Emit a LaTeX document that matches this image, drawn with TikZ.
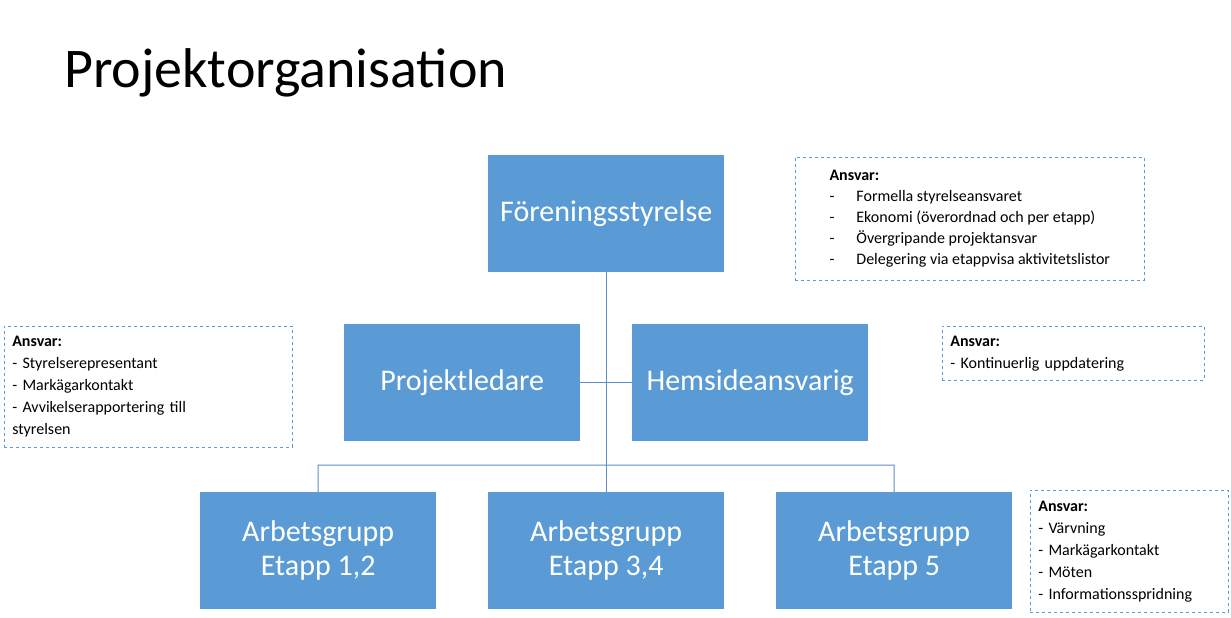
\documentclass[tikz,border=0pt]{standalone}
\usepackage{fontspec}
\setmainfont{Carlito}
\begin{document}
\begin{tikzpicture}[x=1pt,y=-1pt,
  org/.style={fill=orgblue,draw=none,minimum width=236pt,minimum height=117pt,text=white,font=\fontsize{30}{34}\selectfont,align=center,anchor=north west,inner sep=0pt},
  note/.style={draw=noteblue,dashed,line width=0.6pt,anchor=north west,align=left,font=\fontsize{16}{22}\selectfont,inner xsep=8pt,inner ysep=4pt,text=black},
  conn/.style={draw=lineblue,line width=1pt}]
\definecolor{orgblue}{HTML}{5B9BD5}
\definecolor{noteblue}{HTML}{5B9BD5}
\definecolor{lineblue}{HTML}{5B8FC8}
\useasboundingbox[fill=white] (0,0) rectangle (1231,618);
\node[anchor=base west,font=\fontsize{56}{60}\selectfont,inner sep=0pt] (title) at (64,88) {Projektorganisation};
\node[org] (fs) at (488,155) {Föreningsstyrelse};
\node[org] (pl) at (344,324) {Projektledare};
\node[org] (hs) at (632,324) {Hemsideansvarig};
\node[org] (a1) at (200,492) {Arbetsgrupp\\Etapp 1,2};
\node[org] (a2) at (488,492) {Arbetsgrupp\\Etapp 3,4};
\node[org] (a3) at (776,492) {Arbetsgrupp\\Etapp 5};
\coordinate (hl) at (318,465);
\coordinate (hr) at (894,465);
\draw[conn] (fs.south) -- (a2.north);
\draw[conn] (pl.east) -- (hs.west);
\draw[conn] (a1.north) -- (hl) -- (hr) -- (a3.north);
\node[note,minimum width=349pt,minimum height=123pt] (n1) at (795,157) {\textbf{Ansvar:}\\[-1pt]
-\hspace{22pt}Formella styrelseansvaret\\[-1pt]
-\hspace{22pt}Ekonomi (överordnad och per etapp)\\[-1pt]
-\hspace{22pt}Övergripande projektansvar\\[-1pt]
-\hspace{22pt}Delegering via etappvisa aktivitetslistor};
\node[note,minimum width=288pt,minimum height=121pt,text width=272pt] (n2) at (4,326) {\textbf{Ansvar:}\\
- Styrelserepresentant\\
- Markägarkontakt\\
- Avvikelserapportering till\\styrelsen};
\node[note,minimum width=262pt,minimum height=54pt,text width=246pt] (n3) at (942,326) {\textbf{Ansvar:}\\
- Kontinuerlig uppdatering};
\node[note,minimum width=198pt,minimum height=122pt,text width=182pt] (n4) at (1030,490) {\textbf{Ansvar:}\\
- Värvning\\
- Markägarkontakt\\
- Möten\\
- Informationsspridning};
\end{tikzpicture}
\end{document}
